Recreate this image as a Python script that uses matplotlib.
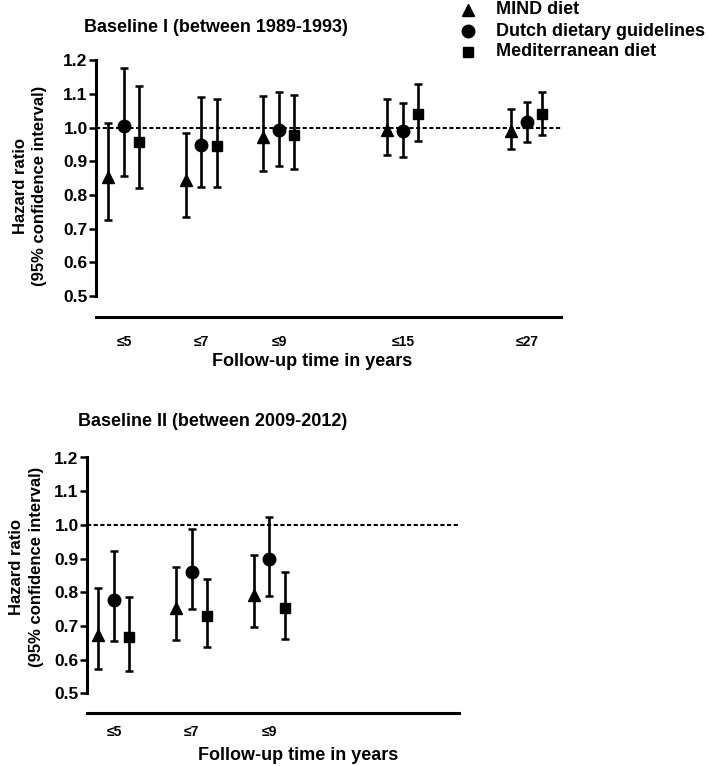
"""Hazard ratios by follow-up time for three diet scores, two baselines."""

import matplotlib

matplotlib.use("Agg")
import matplotlib.pyplot as plt

plt.rcParams["font.family"] = ["Liberation Sans", "DejaVu Sans"]
plt.rcParams["font.weight"] = "bold"

W, H = 708, 766

# Baseline I (1989-1993)
followup_I = ["≤5", "≤7", "≤9", "≤15", "≤27"]
mind_I = [0.854, 0.845, 0.971, 0.993, 0.991]
mind_I_lo = [0.726, 0.736, 0.872, 0.920, 0.937]
mind_I_hi = [1.013, 0.983, 1.095, 1.084, 1.055]
ddg_I = [1.006, 0.947, 0.993, 0.991, 1.016]
ddg_I_lo = [0.857, 0.823, 0.887, 0.914, 0.956]
ddg_I_hi = [1.177, 1.090, 1.107, 1.072, 1.075]
med_I = [0.956, 0.944, 0.978, 1.041, 1.041]
med_I_lo = [0.820, 0.823, 0.876, 0.959, 0.979]
med_I_hi = [1.124, 1.084, 1.096, 1.130, 1.105]

# Baseline II (2009-2012)
followup_II = ["≤5", "≤7", "≤9"]
mind_II = [0.672, 0.754, 0.792]
mind_II_lo = [0.571, 0.659, 0.696]
mind_II_hi = [0.812, 0.875, 0.910]
ddg_II = [0.777, 0.860, 0.898]
ddg_II_lo = [0.655, 0.750, 0.789]
ddg_II_hi = [0.923, 0.989, 1.023]
med_II = [0.667, 0.728, 0.754]
med_II_lo = [0.567, 0.636, 0.660]
med_II_hi = [0.785, 0.838, 0.860]

series_names = ["MIND diet", "Dutch dietary guidelines", "Mediterranean diet"]
yticks = [0.5, 0.6, 0.7, 0.8, 0.9, 1.0, 1.1, 1.2]

# layout only: slot positions of the groups and marker styles
slots_I = [1, 2, 3, 4.6, 6.2]
slots_II = [1, 2, 3]
offsets = [-0.2, 0.0, 0.2]
markers = [("^", 8.5), ("o", 9), ("s", 7)]


def px_rect(x0, x1, y_top, y_bot):
    """Axes rect in figure fractions from pixel edges."""
    return [x0 / W, 1 - y_bot / H, (x1 - x0) / W, (y_bot - y_top) / H]


def draw_panel(ax, slots, labels, series, xlim, spine_gap, xpad):
    for (mean, lo, hi), off, (mk, ms) in zip(series, offsets, markers):
        xs = [s + off for s in slots]
        err = [[m - l for m, l in zip(mean, lo)], [h - m for m, h in zip(mean, hi)]]
        ax.errorbar(xs, mean, yerr=err, fmt=mk, ms=ms, color="black",
                    ecolor="black", elinewidth=1.9, capsize=2.7, capthick=1.8,
                    clip_on=False, zorder=3)
    ax.axhline(1.0, color="black", lw=1.5, ls=(0, (2.0, 1.2)), zorder=2)
    ax.set_xlim(*xlim)
    ax.set_ylim(0.5, 1.2)
    ax.set_yticks(yticks)
    ax.set_yticklabels([f"{t:.1f}" for t in yticks], fontsize=12.5, fontweight="bold")
    ax.set_xticks(slots)
    ax.set_xticklabels(labels, fontsize=12.5, fontweight="bold")
    ax.tick_params(axis="y", length=5, width=1.8, pad=1)
    ax.tick_params(axis="x", length=0, pad=xpad)
    for side in ["top", "right"]:
        ax.spines[side].set_visible(False)
    ax.spines["left"].set_linewidth(2.2)
    ax.spines["bottom"].set_linewidth(2.2)
    ax.spines["bottom"].set_position(("outward", spine_gap * 72 / 100))


fig = plt.figure(figsize=(W / 100, H / 100), dpi=100)

ax1 = fig.add_axes(px_rect(96, 561, 60.3, 296))
draw_panel(ax1, slots_I, followup_I,
           [(mind_I, mind_I_lo, mind_I_hi), (ddg_I, ddg_I_lo, ddg_I_hi),
            (med_I, med_I_lo, med_I_hi)],
           (0.639, 6.64), 21, 13)

ax2 = fig.add_axes(px_rect(87, 459, 457.5, 693.3))
draw_panel(ax2, slots_II, followup_II,
           [(mind_II, mind_II_lo, mind_II_hi), (ddg_II, ddg_II_lo, ddg_II_hi),
            (med_II, med_II_lo, med_II_hi)],
           (0.652, 5.45), 20, 8.5)

# titles, axis labels
fig.text(216 / W, 1 - 27 / H, "Baseline I (between 1989-1993)", ha="center",
         va="center", fontsize=13, fontweight="bold")
fig.text(213 / W, 1 - 422 / H, "Baseline II (between 2009-2012)", ha="center",
         va="center", fontsize=13, fontweight="bold")
fig.text(312 / W, 1 - 362 / H, "Follow-up time in years", ha="center",
         va="center", fontsize=13, fontweight="bold")
fig.text(298 / W, 1 - 755 / H, "Follow-up time in years", ha="center",
         va="center", fontsize=13, fontweight="bold")
ylab = "Hazard ratio\n(95% confidence interval)"
fig.text(30 / W, 1 - 186 / H, ylab, ha="center", va="center", rotation=90,
         fontsize=12, fontweight="bold", linespacing=1.4)
fig.text(26.5 / W, 1 - 567 / H, ylab, ha="center", va="center", rotation=90,
         fontsize=12, fontweight="bold", linespacing=1.4)

# legend drawn by hand at the top right
for (mk, ms), name, y in zip(markers, series_names, [10, 31, 52]):
    fig.lines.append(plt.Line2D([468 / W], [1 - y / H], marker=mk, ms=ms,
                                color="black", ls="none",
                                transform=fig.transFigure))
    fig.text(496 / W, 1 - y / H, name, ha="left", va="center",
             fontsize=13, fontweight="bold")

fig.savefig("out.png", dpi=100)
